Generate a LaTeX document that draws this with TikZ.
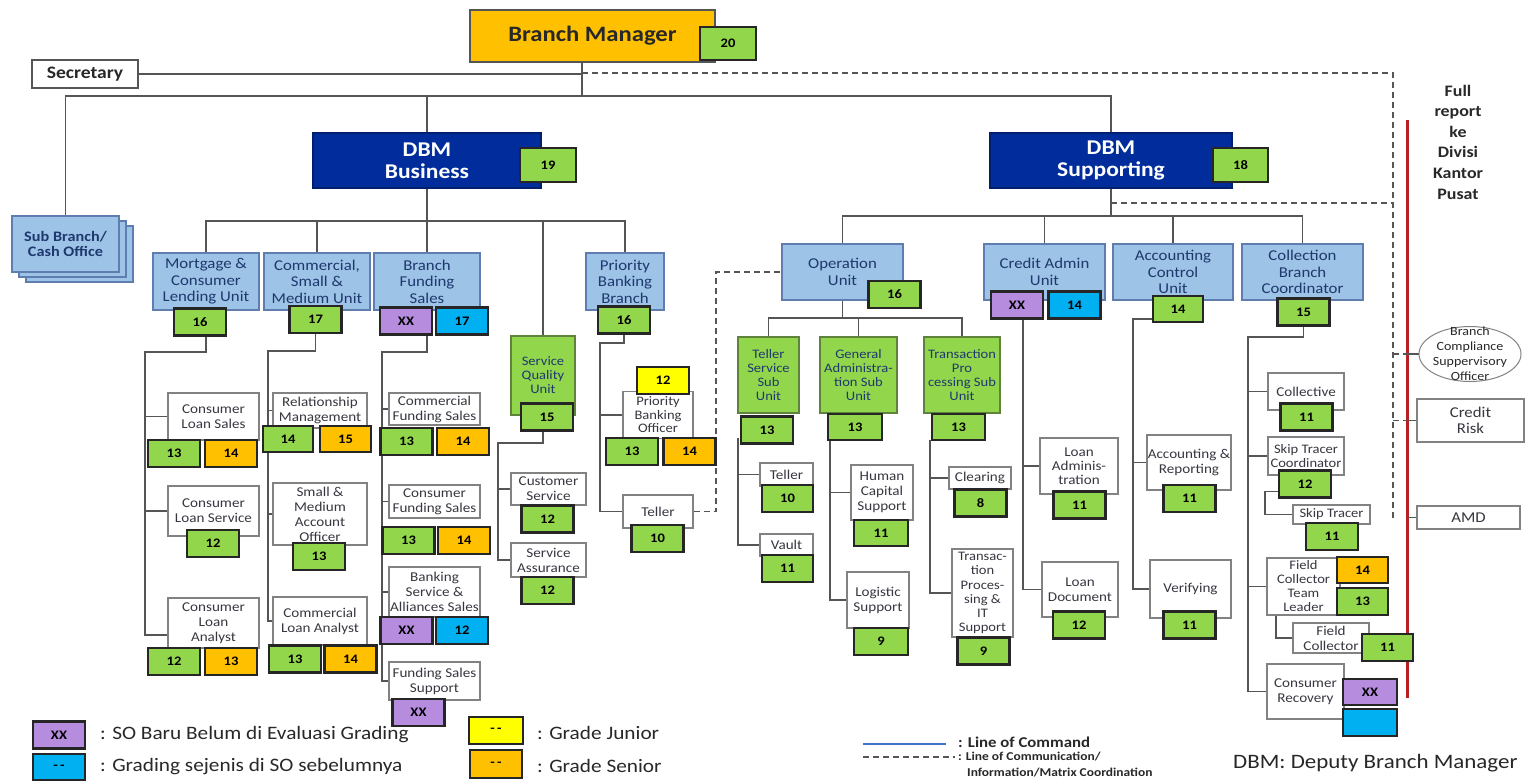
\documentclass[tikz,border=0pt]{standalone}
\usepackage{fontspec}
\setmainfont{Carlito}[FakeStretch=1.12]
\usetikzlibrary{backgrounds,shapes.geometric}
\definecolor{unitblue}{RGB}{157,195,230}
\definecolor{unitedge}{RGB}{95,125,175}
\definecolor{navy}{RGB}{31,56,110}
\definecolor{grgreen}{RGB}{146,214,76}
\definecolor{subedge}{RGB}{95,130,60}
\definecolor{boxgray}{RGB}{130,130,130}
\definecolor{txtgray}{RGB}{55,55,65}
\definecolor{txtdark}{RGB}{40,40,40}
\definecolor{lngray}{RGB}{85,85,85}
\definecolor{grorange}{RGB}{255,192,0}
\definecolor{gryellow}{RGB}{255,255,0}
\definecolor{grblue}{RGB}{0,176,240}
\definecolor{grpurple}{RGB}{182,140,222}
\definecolor{dbmblue}{RGB}{0,45,155}
\definecolor{redline}{RGB}{185,30,35}
\definecolor{cmdblue}{RGB}{68,114,196}
\begin{document}
\begin{tikzpicture}[x=1pt,y=-1pt,
    ln/.style={draw=lngray,line width=1.5pt},
    dsh/.style={draw=lngray,line width=1.3pt,dash pattern=on 6pt off 4pt},
    redl/.style={draw=redline,line width=3pt},
    sz/.style 2 args={minimum width=#1pt,minimum height=#2pt},
    box/.style={draw,inner sep=0pt,align=center,line width=1.4pt},
    unit/.style={box,fill=unitblue,draw=unitedge,text=navy,font=\fontsize{15}{16.5}\selectfont},
    subu/.style={box,fill=grgreen,draw=subedge,text=navy,font=\fontsize{13}{14}\selectfont},
    plain/.style={box,fill=white,draw=boxgray,text=txtgray,font=\fontsize{13.5}{15}\selectfont},
    gr/.style={box,sz={52}{27},fill=grgreen,draw=black!85,line width=2.2pt,font=\bfseries\fontsize{13}{14}\selectfont},
    gro/.style={gr,fill=grorange},
    gry/.style={gr,fill=gryellow},
    grb/.style={gr,fill=grblue},
    grp/.style={gr,fill=grpurple},
    dbm/.style={box,fill=dbmblue,draw=dbmblue!70!black,text=white,font=\bfseries\fontsize{21}{22}\selectfont},
    lgtxt/.style={anchor=west,inner sep=0pt,text=txtdark,font=\fontsize{19}{21}\selectfont}]
\useasboundingbox (0,0) rectangle (1526,780);
\begin{scope}[on background layer]
\fill[white] (0,0) rectangle (1526,780);
\end{scope}

% top level
\node[box,fill=grorange,draw=lngray,sz={245}{52},text=txtdark,font=\bfseries\fontsize{22}{24}\selectfont] (bm) at (592.5,36) {Branch Manager};
\node[gr,sz={56}{33}] (g20) at (728,43.5) {20};
\node[plain,draw=lngray,text=txtdark,sz={106}{28},font=\bfseries\fontsize{17.5}{20}\selectfont] (sec) at (85,74) {Secretary};
\node[dbm,sz={228}{55}] (dbmb) at (427,160.5) {DBM\\Business};
\node[gr,sz={56}{34}] (g19) at (548,165) {19};
\node[dbm,sz={242}{55}] (dbms) at (1111,160.5) {DBM\\Supporting};
\node[gr,sz={55}{34}] (g18) at (1240.5,165) {18};
\node[unit,sz={107}{56}] (sbr3) at (79.5,254) {};
\node[unit,sz={107}{56}] (sbr2) at (72.5,249) {};
\node[unit,sz={107}{56},font=\bfseries\fontsize{14.5}{15}\selectfont] (sbr) at (65.5,244) {Sub Branch/\\Cash Office};

% business units
\node[unit,sz={106}{57}] (mcl) at (206,281.5) {Mortgage \&\\Consumer\\Lending Unit};
\node[gr] (g16a) at (200,322) {16};
\node[unit,sz={106}{57}] (csm) at (317,281.5) {Commercial,\\Small \&\\Medium Unit};
\node[gr] (g17a) at (315.5,319.5) {17};
\node[unit,sz={106}{57}] (bfs) at (427,281.5) {Branch\\Funding\\Sales};
\node[grp] (gbfsx) at (406,321) {XX};
\node[grb] (gbfs) at (462,321) {17};
\node[subu,sz={64}{79}] (squ) at (543,375.5) {Service\\Quality\\Unit};
\node[gr] (g15a) at (547,417) {15};
\node[unit,sz={78}{57}] (pbb) at (625,281.5) {Priority\\Banking\\Branch};
\node[gr] (g16b) at (624,320) {16};

% mortgage column
\node[plain,sz={91}{47}] (cls) at (213.5,416.5) {Consumer\\Loan Sales};
\node[gr] (gcls1) at (174,453.5) {13};
\node[gro] (gcls2) at (231,453.5) {14};
\node[plain,sz={91}{50}] (clsv) at (213.5,511) {Consumer\\Loan Service};
\node[gr] (gclsv) at (213,543.5) {12};
\node[plain,sz={91}{50}] (cla) at (213.5,623) {Consumer\\Loan\\Analyst};
\node[gr] (gcla1) at (174,661.5) {12};
\node[gro] (gcla2) at (231,661.5) {13};

% commercial column
\node[plain,sz={94}{35}] (rm) at (320,410.5) {Relationship\\Management};
\node[gr,sz={50}{26}] (grm1) at (288,439) {14};
\node[gro,sz={51}{26}] (grm2) at (345.5,439) {15};
\node[plain,sz={94}{62}] (smao) at (320,514) {Small \&\\Medium\\Account\\Officer};
\node[gr] (gsmao) at (319,556.5) {13};
\node[plain,sz={94}{48}] (ccla) at (320,621) {Commercial\\Loan Analyst};
\node[gr] (gccla1) at (295,659) {13};
\node[gro] (gccla2) at (350.5,659) {14};

% funding column
\node[plain,sz={91}{32}] (cfs) at (434.5,409) {Commercial\\Funding Sales};
\node[gr] (gcfs1) at (406.5,441.5) {13};
\node[gro] (gcfs2) at (463,441.5) {14};
\node[plain,sz={91}{33}] (cofs) at (434.5,501.5) {Consumer\\Funding Sales};
\node[gr] (gcofs1) at (408.5,540.5) {13};
\node[gro] (gcofs2) at (464,540.5) {14};
\node[plain,sz={91}{50}] (bsas) at (434.5,592) {Banking\\Service \&\\Alliances Sales};
\node[grp] (gbsas1) at (406.5,630.5) {XX};
\node[grb] (gbsas2) at (462,630.5) {12};
\node[plain,sz={91}{38}] (fss) at (434.5,681) {Funding Sales\\Support};
\node[grp] (gfss) at (418.5,712.5) {XX};

% service quality and priority
\node[plain,sz={75}{32}] (cs) at (548.5,489) {Customer\\Service};
\node[gr] (gcs) at (547.5,519) {12};
\node[plain,sz={75}{34}] (sa) at (548.5,560) {Service\\Assurance};
\node[gr] (gsa) at (547.5,590.5) {12};
\node[plain,sz={70}{47},font=\fontsize{13}{13.5}\selectfont] (pbo) at (658,415) {Priority\\Banking\\Officer};
\node[gry] (gpbo0) at (663,380.5) {12};
\node[gr] (gpbo1) at (632,451.5) {13};
\node[gro] (gpbo2) at (689.5,451.5) {14};
\node[plain,sz={70}{33}] (tel1) at (658,511.5) {Teller};
\node[gr] (gtel1) at (657.5,538.5) {10};

% supporting units
\node[unit,sz={121}{56}] (opu) at (842.5,272) {Operation\\Unit};
\node[gr] (gopu) at (894.5,294.5) {16};
\node[unit,sz={121}{56}] (cau) at (1044.5,272) {Credit Admin\\Unit};
\node[grp] (gcau1) at (1017,305) {XX};
\node[grb] (gcau2) at (1074.5,305) {14};
\node[unit,sz={120}{56}] (acu) at (1173,272) {Accounting\\Control\\Unit};
\node[gr,sz={50}{26}] (gacu) at (1178,309) {14};
\node[unit,sz={121}{56}] (cbc) at (1302.5,272) {Collection\\Branch\\Coordinator};
\node[gr] (gcbc) at (1303.5,312) {15};

% operation sub units
\node[subu,sz={61}{76}] (tss) at (768.5,375) {Teller\\Service\\Sub\\Unit};
\node[gr] (gtss) at (767,430) {13};
\node[subu,sz={77}{76}] (gas) at (858.5,375) {General\\Administra-\\tion Sub\\Unit};
\node[gr,sz={54}{26}] (ggas) at (855,427) {13};
\node[subu,sz={76}{76}] (tps) at (962,375) {Transaction\\Pro\\cessing Sub\\Unit};
\node[gr,sz={53}{26}] (gtps) at (958.5,427) {13};
\node[plain,sz={53}{23}] (tel2) at (786.5,474.5) {Teller};
\node[gr,sz={51}{27}] (gtel2) at (787.5,498.5) {10};
\node[plain,sz={53}{22}] (vlt) at (786.5,545) {Vault};
\node[gr,sz={51}{27}] (gvlt) at (787.5,568.5) {11};
\node[plain,sz={62}{55}] (hcs) at (882,492.5) {Human\\Capital\\Support};
\node[gr,sz={54}{26}] (ghcs) at (881,533) {11};
\node[plain,sz={62}{56}] (ls) at (878,600) {Logistic\\Support};
\node[gr,sz={54}{27}] (gls) at (881,641.5) {9};
\node[plain,sz={62}{22}] (clr) at (980,478) {Clearing};
\node[gr] (gclr) at (980.5,503) {8};
\node[plain,sz={61}{88},font=\fontsize{13}{14.2}\selectfont] (tpit) at (982.5,593) {Transac-\\tion\\Proces-\\sing \&\\IT\\Support};
\node[gr] (gtpit) at (983.5,651) {9};

% credit admin and accounting
\node[plain,sz={78}{56},font=\fontsize{13.5}{14}\selectfont] (la) at (1079,466) {Loan\\Adminis-\\tration};
\node[gr] (gla) at (1079.5,505) {11};
\node[plain,sz={76}{55}] (ld) at (1080,589.5) {Loan\\Document};
\node[gr] (gld) at (1079,625) {12};
\node[plain,sz={84}{55}] (ar) at (1189,462.5) {Accounting \&\\Reporting};
\node[gr] (gar) at (1189.5,498.5) {11};
\node[plain,sz={81}{58}] (vf) at (1190.5,589) {Verifying};
\node[gr] (gvf) at (1189.5,625) {11};

% collection
\node[plain,sz={76}{37}] (col) at (1306,391.5) {Collective};
\node[gr] (gcol) at (1306.5,417) {11};
\node[plain,sz={76}{38},font=\fontsize{13}{14.5}\selectfont] (stc) at (1306,456) {Skip Tracer\\Coordinator};
\node[gr] (gstc) at (1305,484) {12};
\node[plain,sz={77}{19},font=\fontsize{13}{14}\selectfont] (st) at (1331.5,514.5) {Skip Tracer};
\node[gr] (gst) at (1332,536.5) {11};
\node[plain,sz={73}{57},font=\fontsize{13}{14}\selectfont] (fctl) at (1303.5,586.5) {Field\\Collector\\Team\\Leader};
\node[gro,sz={51}{26}] (gfctl1) at (1362.5,570) {14};
\node[gr,sz={51}{27}] (gfctl2) at (1362.5,601.5) {13};
\node[plain,sz={76}{30}] (fc) at (1331,638) {Field\\Collector};
\node[gr,sz={51}{27}] (gfc) at (1387.5,647.5) {11};
\node[plain,sz={77}{55}] (cr) at (1305.5,691.5) {Consumer\\Recovery};
\node[grp,sz={54}{26}] (gcr1) at (1370,692) {XX};
\node[grb,sz={54}{27}] (gcr2) at (1370,722.5) {};

% head office side
\node[ellipse,draw=boxgray,line width=1pt,fill=white,inner sep=0pt,sz={102}{55}] (bcso) at (1470,354) {};
\node[align=center,text=txtdark,font=\fontsize{12.5}{15}\selectfont] (bcsot) at (bcso) {Branch\\Compliance\\Suppervisory\\Officer};
\node[plain,sz={107}{43},font=\fontsize{15}{16}\selectfont] (crisk) at (1470.5,420.5) {Credit\\Risk};
\node[plain,sz={103}{23},font=\fontsize{15}{16}\selectfont] (amd) at (1468.5,517.5) {AMD};
\node[align=center,text=txtdark,font=\bfseries\fontsize{16}{20.6}\selectfont] (frep) at (1458,142) {Full\\report\\ke\\Divisi\\Kantor\\Pusat};

% legend
\node[grp] (lgx) at (59,735) {XX};
\node[grb,sz={52}{26}] (lgb) at (59,767) {-\,-};
\node[lgtxt] (lgxt) at (100,735) {: SO Baru Belum di Evaluasi Grading};
\node[lgtxt] (lgbt) at (100,767) {: Grading sejenis di SO sebelumnya};
\node[gry,sz={54}{27}] (lgy) at (496,730.5) {-\,-};
\node[gro,sz={52}{28}] (lgo) at (496,764) {-\,-};
\node[lgtxt] (lgyt) at (537,733) {: Grade Junior};
\node[lgtxt] (lgot) at (537,766) {: Grade Senior};
\coordinate (lc1) at (863,744);
\coordinate (lc2) at (946,744);
\coordinate (lm1) at (863,757);
\coordinate (lm2) at (955,757);
\draw[cmdblue,line width=1.5pt] (lc1) -- (lc2);
\draw[dsh] (lm1) -- (lm2);
\node[lgtxt,font=\bfseries\fontsize{15}{16}\selectfont] (lcmd) at (958,742) {: Line of Command};
\node[lgtxt,font=\bfseries\fontsize{12}{14}\selectfont] (lcom) at (958,757) {: Line of Communication/};
\node[lgtxt,font=\bfseries\fontsize{12}{14}\selectfont] (lcom2) at (967,773) {Information/Matrix Coordination};
\node[lgtxt,font=\fontsize{20.5}{24}\selectfont] (dbmnote) at (1233,763) {DBM: Deputy Branch Manager};

% bus points
\coordinate (bmst) at (582,62);
\coordinate (topbus) at (582,96);
\coordinate (dvert) at (1393,73);
\coordinate (dsdash) at (1111,203);
\coordinate (dbbus) at (427,221);
\coordinate (dsbus) at (1111,216);
\coordinate (opbus) at (842.5,318);
\coordinate (mclb) at (145,352);
\coordinate (csmb) at (268,351);
\coordinate (bfsb) at (382,352);
\coordinate (squb) at (498,443);
\coordinate (pbbb) at (600,343);
\coordinate (tssb) at (738,438);
\coordinate (gasb) at (830,440);
\coordinate (tpsb) at (930,440);
\coordinate (caub) at (1023,318);
\coordinate (acub) at (1133,319);
\coordinate (cbcb) at (1248,337);
\coordinate (rtop) at (1407,120);
\coordinate (rbot) at (1407,698);

\begin{scope}[on background layer]
% top
\draw[ln] (sec.east) -- (sec.east -| bmst);
\draw[ln] (bmst) -- (topbus);
\draw[ln] (sbr.north) |- (topbus) -| (dbms.north);
\draw[ln] (dbmb.north) -- (dbmb.north |- topbus);
\draw[dsh] (bmst |- dvert) -- (dvert) -- (dvert |- amd.west);
\draw[dsh] (dsdash) -- (dsdash -| dvert);
% business
\draw[ln] (dbmb.south) -- (bfs.north);
\draw[ln] (mcl.north) |- (dbbus) -| (pbb.north);
\draw[ln] (csm.north) -- (csm.north |- dbbus);
\draw[ln] (squ.north) -- (squ.north |- dbbus);
\draw[ln] (mcl.south |- g16a.south) |- (mclb) |- ([yshift=-12pt]cla.west);
\draw[ln] (mclb |- cls.west) -- (cls.west);
\draw[ln] (mclb |- clsv.west) -- (clsv.west);
\draw[ln] (g17a.south) |- (csmb) |- (ccla.west);
\draw[ln] (csmb |- rm.west) -- (rm.west);
\draw[ln] (csmb |- smao.west) -- (smao.west);
\draw[ln] (bfs.south |- gbfsx.south) |- (bfsb) |- (fss.west);
\draw[ln] (bfsb |- cfs.west) -- (cfs.west);
\draw[ln] (bfsb |- cofs.west) -- (cofs.west);
\draw[ln] (bfsb |- bsas.west) -- (bsas.west);
\draw[ln] (squ.south |- g15a.south) |- (squb) |- (sa.west);
\draw[ln] (squb |- cs.west) -- (cs.west);
\draw[ln] (g16b.south) |- (pbbb) |- (tel1.west);
\draw[ln] (pbbb |- pbo.west) -- (pbo.west);
\draw[dsh] (tel1.east) -| (opu.west -| 716,0) -- (opu.west);
% supporting
\draw[ln] (dbms.south) -- (dsbus);
\draw[ln] (opu.north) |- (dsbus) -| (cbc.north);
\draw[ln] (cau.north) -- (cau.north |- dsbus);
\draw[ln] (acu.north) -- (acu.north |- dsbus);
\draw[ln] (opu.south) -- (opbus);
\draw[ln] (tss.north) |- (opbus) -| (tps.north);
\draw[ln] (gas.north) -- (gas.north |- opbus);
\draw[ln] (tssb) |- (vlt.west);
\draw[ln] (tssb |- tel2.west) -- (tel2.west);
\draw[ln] (gasb) |- (ls.west);
\draw[ln] (gasb |- hcs.west) -- (hcs.west);
\draw[ln] (tpsb) |- (tpit.west);
\draw[ln] (tpsb |- clr.west) -- (clr.west);
\draw[ln] (caub) |- (ld.west);
\draw[ln] (caub |- la.west) -- (la.west);
\draw[ln] (gacu.west |- acub) -- (acub) |- (vf.west);
\draw[ln] (acub |- ar.west) -- (ar.west);
\draw[ln] (gcbc.south) |- (cbcb) |- (cr.west);
\draw[ln] (cbcb |- col.west) -- (col.west);
\draw[ln] (cbcb |- stc.west) -- (stc.west);
\draw[ln] (cbcb |- fctl.west) -- (fctl.west);
\draw[ln] ([yshift=7pt]gstc.south west) -- ++(-13,0) |- (st.west);
\draw[ln] (fctl.south -| 1276,0) |- (fc.west);
% head office
\draw[redl] (rtop) -- (rbot);
\draw[ln] (rtop |- bcso.west) -- (bcso.west);
\draw[ln] (rtop |- crisk.west) -- (crisk.west);
\draw[ln] (rtop |- amd.west) -- (amd.west);
\draw[dsh] (dvert |- bcso.west) -- (rtop |- bcso.west);
\draw[dsh] (dvert |- crisk.west) -- (rtop |- crisk.west);
\end{scope}
\end{tikzpicture}
\end{document}
